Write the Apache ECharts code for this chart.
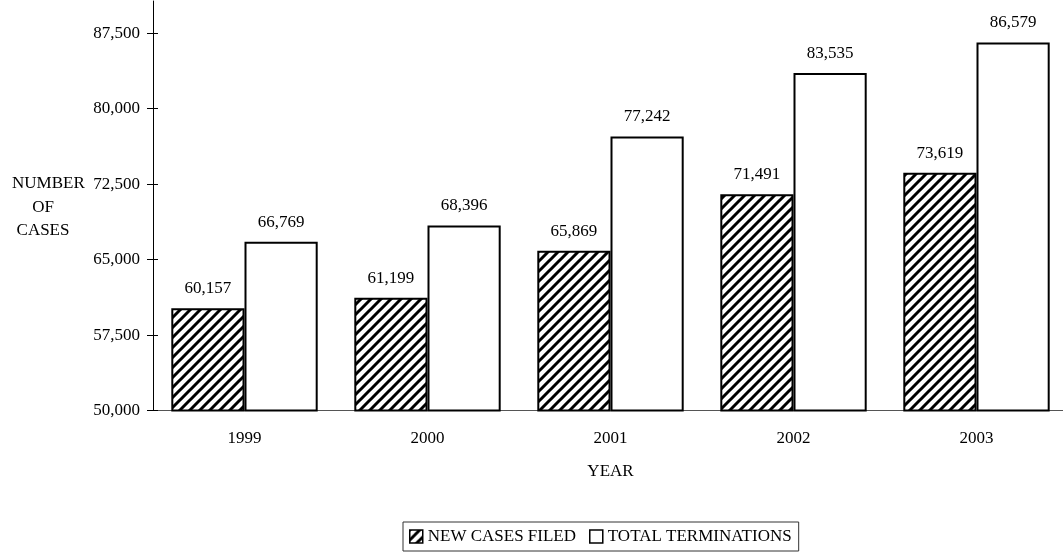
<!DOCTYPE html>
<html>
<head>
<meta charset="utf-8">
<script src="https://cdn.jsdelivr.net/npm/echarts@6/dist/echarts.min.js"></script>
<style>
html,body{margin:0;padding:0;background:#fff;overflow:hidden;width:1063px;height:552px;}
#chart{width:1068px;height:552px;}
</style>
</head>
<body>
<div id="chart"></div>
<script>
const years = ['1999', '2000', '2001', '2002', '2003'];
const newCasesFiled = [60157, 61199, 65869, 71491, 73619];
const totalTerminations = [66769, 68396, 77242, 83535, 86579];
const yTicks = [50000, 57500, 65000, 72500, 80000, 87500];
const seriesNames = ['NEW CASES FILED', 'TOTAL TERMINATIONS'];
const yAxisTitle = ['NUMBER', 'OF', 'CASES'];
const xAxisTitle = 'YEAR';

const FONT = '"Liberation Serif", "Times New Roman", serif';

// diagonal hatch pattern
const pc = document.createElement('canvas');
pc.width = 10; pc.height = 10;
const ctx = pc.getContext('2d');
ctx.fillStyle = '#fff';
ctx.fillRect(0, 0, 10, 10);
ctx.strokeStyle = '#000';
ctx.lineWidth = 3;
ctx.beginPath();
ctx.moveTo(-2, 12); ctx.lineTo(12, -2);
ctx.moveTo(-7, 7); ctx.lineTo(7, -7);
ctx.moveTo(3, 17); ctx.lineTo(17, 3);
ctx.stroke();

const fmt = v => Number(v).toLocaleString('en-US');

const chart = echarts.init(document.getElementById('chart'), null, {renderer: 'canvas'});
chart.setOption({
  animation: false,
  backgroundColor: '#fff',
  textStyle: {fontFamily: FONT, color: '#000'},
  grid: {left: 153, right: 0, top: 1, bottom: 141.5},
  graphic: [
    {type: 'text', x: 12, y: 184, style: {text: yAxisTitle[0], font: '17px ' + FONT, fill: '#000', textAlign: 'left', textVerticalAlign: 'middle'}},
    {type: 'text', x: 43, y: 208, style: {text: yAxisTitle[1], font: '17px ' + FONT, fill: '#000', textAlign: 'center', textVerticalAlign: 'middle'}},
    {type: 'text', x: 43, y: 231, style: {text: yAxisTitle[2], font: '17px ' + FONT, fill: '#000', textAlign: 'center', textVerticalAlign: 'middle'}}
  ],
  legend: {
    data: seriesNames,
    left: 403, top: 522,
    padding: [6, 7, 6, 6],
    borderColor: '#333', borderWidth: 1,
    icon: 'rect',
    itemWidth: 13, itemHeight: 13, itemGap: 13,
    itemStyle: {borderWidth: 1.5, borderColor: '#000'},
    textStyle: {fontFamily: FONT, fontSize: 17, color: '#000'}
  },
  xAxis: {
    type: 'category',
    data: years,
    boundaryGap: true,
    name: xAxisTitle,
    nameLocation: 'middle',
    nameGap: 53,
    nameTextStyle: {fontFamily: FONT, fontSize: 17, color: '#000'},
    axisLine: {lineStyle: {color: '#555', width: 1}},
    axisTick: {show: false},
    axisLabel: {fontFamily: FONT, fontSize: 17, color: '#000', margin: 20}
  },
  yAxis: [
    {
      type: 'value', min: 50000, max: 90700,
      splitLine: {show: false},
      axisLine: {show: true, lineStyle: {color: '#000', width: 1}},
      axisTick: {show: true, inside: false, length: 6, lineStyle: {color: '#000'}, customValues: yTicks},
      axisLabel: {fontFamily: FONT, fontSize: 17, color: '#000', margin: 13, formatter: fmt, customValues: yTicks}
    },
    {
      type: 'value', min: 50000, max: 90700, position: 'left',
      splitLine: {show: false},
      axisLine: {show: false},
      axisTick: {show: true, inside: true, length: 5, lineStyle: {color: '#000'}, customValues: yTicks},
      axisLabel: {show: false}
    }
  ],
  series: [
    {
      name: seriesNames[0], type: 'bar', data: newCasesFiled,
      barGap: '0%', barCategoryGap: '20%',
      itemStyle: {color: {image: pc, repeat: 'repeat'}, borderColor: '#000', borderWidth: 2},
      label: {show: true, position: 'top', distance: 11, formatter: p => fmt(p.value), fontFamily: FONT, fontSize: 17, color: '#000'}
    },
    {
      name: seriesNames[1], type: 'bar', data: totalTerminations,
      barGap: '0%', barCategoryGap: '20%',
      itemStyle: {color: '#fff', borderColor: '#000', borderWidth: 2},
      label: {show: true, position: 'top', distance: 11, formatter: p => fmt(p.value), fontFamily: FONT, fontSize: 17, color: '#000'}
    }
  ]
});
</script>
</body>
</html>
